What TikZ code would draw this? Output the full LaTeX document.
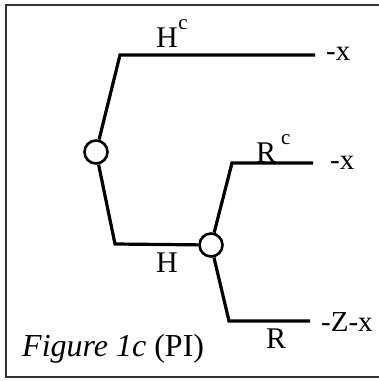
\documentclass[tikz,border=0pt]{standalone}
\usepackage{fontspec}
\setmainfont{Liberation Serif}
\newcommand\supc[1]{\hspace{#1}\raisebox{18pt}{\fontsize{21}{21}\selectfont c}}
\begin{document}
\begin{tikzpicture}[x=1pt,y=-1pt,
  branch/.style={line width=3.2pt,line join=miter},
  chance/.style={circle,draw,line width=2.6pt,minimum size=23pt,inner sep=0pt,fill=white},
  lab/.style={font=\fontsize{30}{30}\selectfont,inner sep=0pt,anchor=base west},
  pay/.style={font=\fontsize{29}{29}\selectfont,inner sep=0pt,anchor=base west}]
\useasboundingbox (0,0) rectangle (379,381);
\draw[line width=2pt,draw=black!80] (6,5) rectangle (383,377);
\node[chance] (c1) at (96,152) {};
\node[chance] (c2) at (211,245) {};
\coordinate (a1) at (120,55);
\coordinate (a2) at (315,55);
\coordinate (b1) at (115,244);
\coordinate (d1) at (232,163);
\coordinate (d2) at (313,163);
\coordinate (e1) at (229,321);
\coordinate (e2) at (310,321);
\draw[branch] (c1) -- (a1) -- (a2);
\draw[branch] (c1) -- (b1) -- (c2);
\draw[branch] (c2) -- (d1) -- (d2);
\draw[branch] (c2) -- (e1) -- (e2);
\node[lab] (lhc) at (156,47) {H\supc{0.5pt}};
\node[lab] (lh) at (156,272) {H};
\node[lab] (lrc) at (256,162) {R\supc{5pt}};
\node[lab] (lr) at (266,348) {R};
\node[pay] (p1) at (326,60) {-x};
\node[pay] (p2) at (330,169) {-x};
\node[pay] (p3) at (321,331) {-Z-x};
\node[font=\fontsize{32}{32}\selectfont,inner sep=0pt,anchor=base west] (cap) at (22,356) {\textit{Figure 1c} (PI)};
\end{tikzpicture}
\end{document}
